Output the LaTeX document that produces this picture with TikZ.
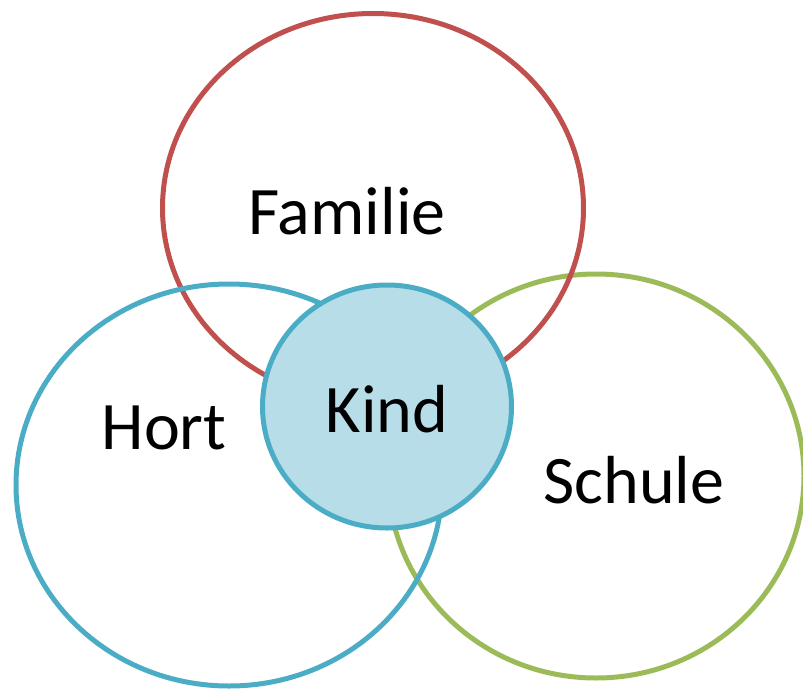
\documentclass[tikz,border=0pt]{standalone}
\usepackage{fontspec}
\setmainfont{Carlito}
\definecolor{cred}{HTML}{C0504D}
\definecolor{cblue}{HTML}{4BACC6}
\definecolor{cgreen}{HTML}{9BBB59}
\definecolor{cfill}{HTML}{B7DDE8}
\begin{document}
\begin{tikzpicture}[x=1pt,y=-1pt,
  ring/.style={line width=5pt},
  lbl/.style={font=\fontsize{68}{80}\selectfont, text=black, inner sep=0pt}]
\useasboundingbox (0,0) rectangle (803,688);
\draw[ring, cgreen] (596,476) ellipse [x radius=208, y radius=202];
\draw[ring, cred] (373,208) ellipse [x radius=210.5, y radius=194.5];
\draw[ring, cblue] (229,485) ellipse [x radius=213, y radius=201];
\draw[ring, cblue, fill=cfill] (387,406.5) ellipse [x radius=124.5, y radius=121.5];
\node[lbl] (familie) at (347,211) {Familie};
\node[lbl] (hort) at (164,428) {Hort};
\node[lbl] (kind) at (387,409) {Kind};
\node[lbl] (schule) at (634,480) {Schule};
\end{tikzpicture}
\end{document}
